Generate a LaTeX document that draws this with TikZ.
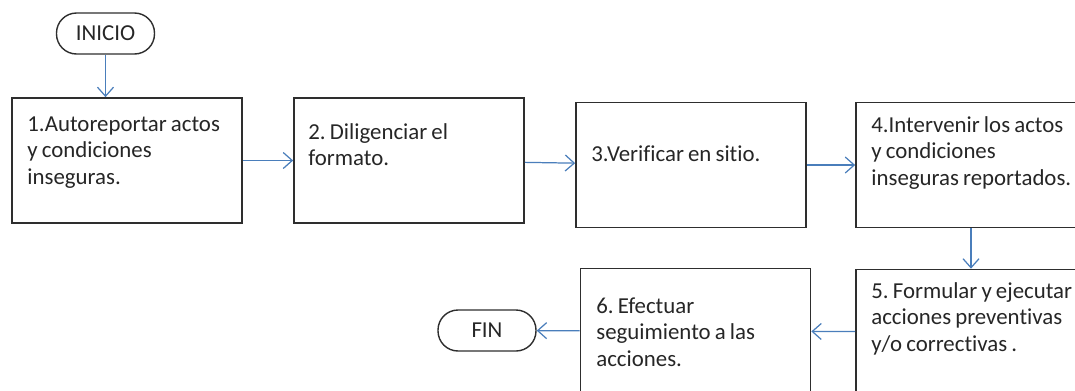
\documentclass[tikz,border=0pt]{standalone}
\usepackage{fontspec}
\setmainfont[Ligatures=NoCommon, WordSpace=0.8]{Carlito}
\usetikzlibrary{arrows.meta}

\definecolor{flowblue}{HTML}{4A7EBB}
\definecolor{boxgray}{HTML}{2E2E2E}

\tikzset{
    paso/.style={draw=boxgray, line width=1pt, minimum width=4.6cm, minimum height=2.5cm, inner sep=0pt},
    pasotext/.style={anchor=base west, inner sep=0pt, text width=4.3cm, align=flush left,
        font=\fontsize{13}{15.2}\selectfont\frenchspacing, text=black!85},
    terminal/.style={draw=boxgray, line width=0.8pt, rounded corners=4mm, minimum width=1.96cm,
        minimum height=0.82cm, font=\fontsize{13}{15}\selectfont, text=black!85},
    flecha/.style={draw=flowblue, line width=0.7pt, -{Straight Barb[length=1.8mm, width=3.2mm]}}
}

\begin{document}
\begin{tikzpicture}[x=0.02cm, y=-0.02cm]
    \clip (0,0) rectangle (1075,390);

    % Terminals
    \node[terminal] (inicio) at (105.5,33.5) {INICIO};
    \node[terminal] (fin) at (487,330.5) {FIN};

    % Boxes
    \node[paso] (p1) at (127,160.5) {};
    \node[paso] (p2) at (409,160.5) {};
    \node[paso] (p3) at (691,165) {};
    \node[paso] (p4) at (971,165) {};
    \node[paso] (p5) at (971,332) {};
    \node[paso] (p6) at (695.5,331) {};

    % Box texts
    \node[pasotext] (t1) at (27,131) {1.Autoreportar actos\\y condiciones\\inseguras.};
    \node[pasotext] (t2) at (308,139) {2. Diligenciar el\\formato.};
    \node[pasotext] (t3) at (591,161) {3.Verificar en sitio.};
    \node[pasotext] (t4) at (871,132) {4.Intervenir los actos\\y condiciones\\inseguras reportados.};
    \node[pasotext] (t5) at (871,298) {5. Formular y ejecutar\\acciones preventivas\\y/o correctivas .};
    \node[pasotext] (t6) at (596,313) {6. Efectuar\\seguimiento a las\\acciones.};

    % Arrows
    \draw[flecha] (inicio) -- (inicio |- p1.north);
    \draw[flecha] (p1) -- (p2);
    \draw[flecha] (p2) -- (p3);
    \draw[flecha] (p3) -- (p4);
    \draw[flecha] (p4) -- (p5);
    \draw[flecha] (p5) -- (p6);
    \draw[flecha] (p6) -- (fin);
\end{tikzpicture}
\end{document}
